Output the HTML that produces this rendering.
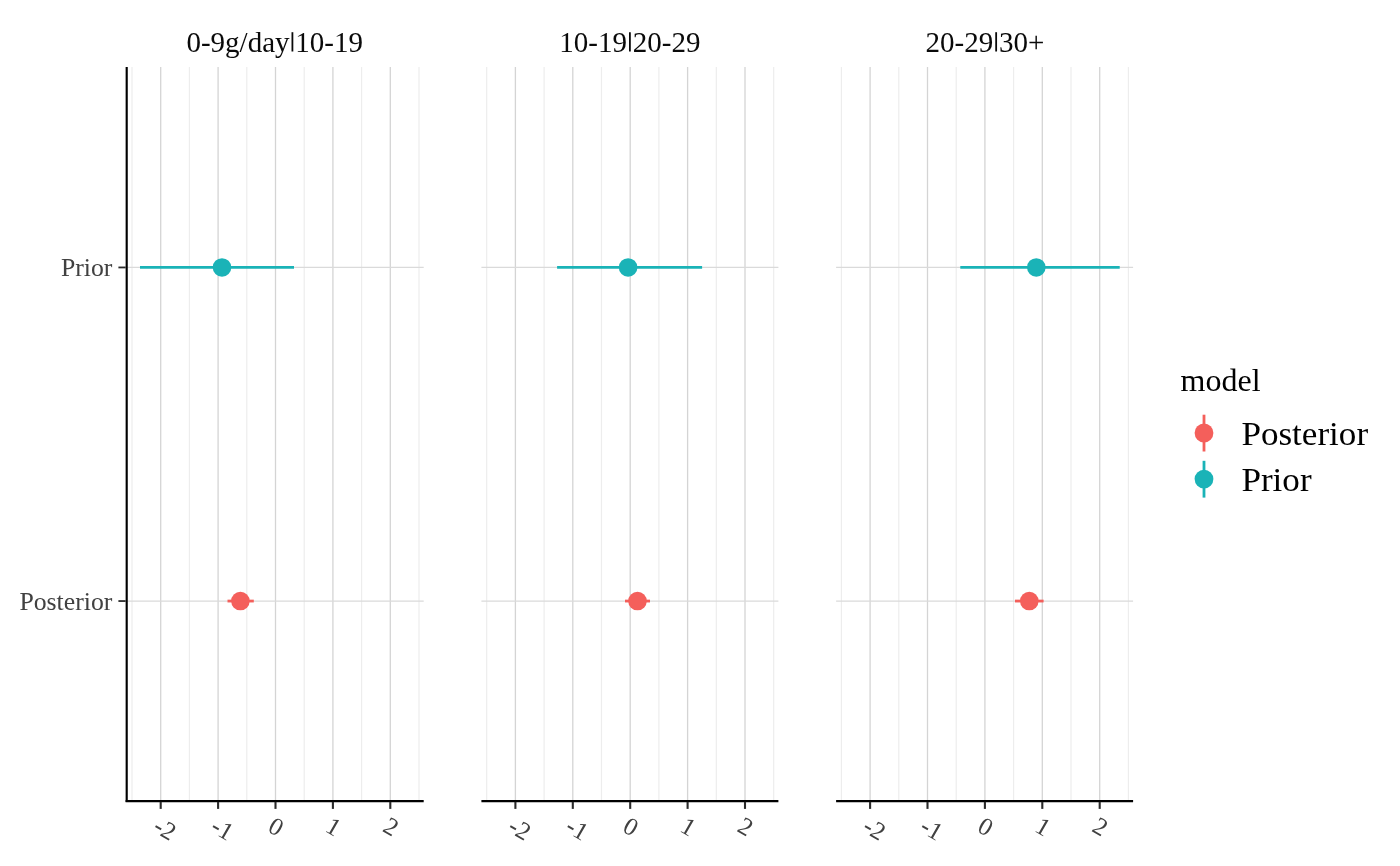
<!DOCTYPE html>
<html><head><meta charset="utf-8"><title>chart</title>
<style>
html,body{margin:0;padding:0;background:#fff;}
body{width:1400px;height:866px;overflow:hidden;font-family:"Liberation Serif",serif;}
svg text{font-family:"Liberation Serif",serif;}
.st{font-size:29px;fill:#0a0a0a;}
.yt{font-size:25.75px;fill:#414141;}
.xt{font-size:25.2px;fill:#414141;}
.lt{font-size:32px;fill:#000;}
.ll{font-size:35.1px;fill:#000;}
</style></head><body>
<svg width="1400" height="866" viewBox="0 0 1400 866" style="display:block;will-change:transform">
<rect width="1400" height="866" fill="#ffffff"/>
<line x1="132.00" x2="132.00" y1="67.0" y2="800.9" stroke="#EDEDED" stroke-width="1.2"/>
<line x1="189.40" x2="189.40" y1="67.0" y2="800.9" stroke="#EDEDED" stroke-width="1.2"/>
<line x1="246.80" x2="246.80" y1="67.0" y2="800.9" stroke="#EDEDED" stroke-width="1.2"/>
<line x1="304.20" x2="304.20" y1="67.0" y2="800.9" stroke="#EDEDED" stroke-width="1.2"/>
<line x1="361.60" x2="361.60" y1="67.0" y2="800.9" stroke="#EDEDED" stroke-width="1.2"/>
<line x1="419.00" x2="419.00" y1="67.0" y2="800.9" stroke="#EDEDED" stroke-width="1.2"/>
<line x1="160.70" x2="160.70" y1="67.0" y2="800.9" stroke="#D4D4D4" stroke-width="1.3"/>
<line x1="218.10" x2="218.10" y1="67.0" y2="800.9" stroke="#D4D4D4" stroke-width="1.3"/>
<line x1="275.50" x2="275.50" y1="67.0" y2="800.9" stroke="#D4D4D4" stroke-width="1.3"/>
<line x1="332.90" x2="332.90" y1="67.0" y2="800.9" stroke="#D4D4D4" stroke-width="1.3"/>
<line x1="390.30" x2="390.30" y1="67.0" y2="800.9" stroke="#D4D4D4" stroke-width="1.3"/>
<line x1="126.70" x2="423.70" y1="267.45" y2="267.45" stroke="#DADADA" stroke-width="1.3"/>
<line x1="126.70" x2="423.70" y1="601.05" y2="601.05" stroke="#DADADA" stroke-width="1.3"/>
<line x1="140" x2="294" y1="267.45" y2="267.45" stroke="#1AB3B7" stroke-width="2.8"/>
<circle cx="222" cy="267.45" r="9.3" fill="#1AB3B7"/>
<line x1="227.5" x2="253.8" y1="601.05" y2="601.05" stroke="#F45F5B" stroke-width="2.8"/>
<circle cx="240.4" cy="601.05" r="9.3" fill="#F45F5B"/>
<line x1="125.60" x2="423.70" y1="801.05" y2="801.05" stroke="#000" stroke-width="2.3"/>
<line x1="160.70" x2="160.70" y1="801.9" y2="808.9" stroke="#2a2a2a" stroke-width="2.1"/>
<text class="xt" transform="translate(151.80,830.8) rotate(30)">-2</text>
<line x1="218.10" x2="218.10" y1="801.9" y2="808.9" stroke="#2a2a2a" stroke-width="2.1"/>
<text class="xt" transform="translate(209.20,830.8) rotate(30)">-1</text>
<line x1="275.50" x2="275.50" y1="801.9" y2="808.9" stroke="#2a2a2a" stroke-width="2.1"/>
<text class="xt" transform="translate(266.60,830.8) rotate(30)">0</text>
<line x1="332.90" x2="332.90" y1="801.9" y2="808.9" stroke="#2a2a2a" stroke-width="2.1"/>
<text class="xt" transform="translate(324.00,830.8) rotate(30)">1</text>
<line x1="390.30" x2="390.30" y1="801.9" y2="808.9" stroke="#2a2a2a" stroke-width="2.1"/>
<text class="xt" transform="translate(381.40,830.8) rotate(30)">2</text>
<text class="st" x="186.43" y="52">0-9g/day<tspan fill="none">&#124;</tspan>10-19</text>
<line x1="292.41" x2="292.41" y1="32.2" y2="51.5" stroke="#0a0a0a" stroke-width="1.8"/>
<line x1="486.70" x2="486.70" y1="67.0" y2="800.9" stroke="#EDEDED" stroke-width="1.2"/>
<line x1="544.10" x2="544.10" y1="67.0" y2="800.9" stroke="#EDEDED" stroke-width="1.2"/>
<line x1="601.50" x2="601.50" y1="67.0" y2="800.9" stroke="#EDEDED" stroke-width="1.2"/>
<line x1="658.90" x2="658.90" y1="67.0" y2="800.9" stroke="#EDEDED" stroke-width="1.2"/>
<line x1="716.30" x2="716.30" y1="67.0" y2="800.9" stroke="#EDEDED" stroke-width="1.2"/>
<line x1="773.70" x2="773.70" y1="67.0" y2="800.9" stroke="#EDEDED" stroke-width="1.2"/>
<line x1="515.40" x2="515.40" y1="67.0" y2="800.9" stroke="#D4D4D4" stroke-width="1.3"/>
<line x1="572.80" x2="572.80" y1="67.0" y2="800.9" stroke="#D4D4D4" stroke-width="1.3"/>
<line x1="630.20" x2="630.20" y1="67.0" y2="800.9" stroke="#D4D4D4" stroke-width="1.3"/>
<line x1="687.60" x2="687.60" y1="67.0" y2="800.9" stroke="#D4D4D4" stroke-width="1.3"/>
<line x1="745.00" x2="745.00" y1="67.0" y2="800.9" stroke="#D4D4D4" stroke-width="1.3"/>
<line x1="481.40" x2="778.40" y1="267.45" y2="267.45" stroke="#DADADA" stroke-width="1.3"/>
<line x1="481.40" x2="778.40" y1="601.05" y2="601.05" stroke="#DADADA" stroke-width="1.3"/>
<line x1="557.1" x2="702.1" y1="267.45" y2="267.45" stroke="#1AB3B7" stroke-width="2.8"/>
<circle cx="628.1" cy="267.45" r="9.3" fill="#1AB3B7"/>
<line x1="625" x2="650" y1="601.05" y2="601.05" stroke="#F45F5B" stroke-width="2.8"/>
<circle cx="637.5" cy="601.05" r="9.3" fill="#F45F5B"/>
<line x1="481.40" x2="778.40" y1="801.05" y2="801.05" stroke="#000" stroke-width="2.3"/>
<line x1="515.40" x2="515.40" y1="801.9" y2="808.9" stroke="#2a2a2a" stroke-width="2.1"/>
<text class="xt" transform="translate(506.50,830.8) rotate(30)">-2</text>
<line x1="572.80" x2="572.80" y1="801.9" y2="808.9" stroke="#2a2a2a" stroke-width="2.1"/>
<text class="xt" transform="translate(563.90,830.8) rotate(30)">-1</text>
<line x1="630.20" x2="630.20" y1="801.9" y2="808.9" stroke="#2a2a2a" stroke-width="2.1"/>
<text class="xt" transform="translate(621.30,830.8) rotate(30)">0</text>
<line x1="687.60" x2="687.60" y1="801.9" y2="808.9" stroke="#2a2a2a" stroke-width="2.1"/>
<text class="xt" transform="translate(678.70,830.8) rotate(30)">1</text>
<line x1="745.00" x2="745.00" y1="801.9" y2="808.9" stroke="#2a2a2a" stroke-width="2.1"/>
<text class="xt" transform="translate(736.10,830.8) rotate(30)">2</text>
<text class="st" x="559.34" y="52">10-19<tspan fill="none">&#124;</tspan>20-29</text>
<line x1="629.90" x2="629.90" y1="32.2" y2="51.5" stroke="#0a0a0a" stroke-width="1.8"/>
<line x1="841.40" x2="841.40" y1="67.0" y2="800.9" stroke="#EDEDED" stroke-width="1.2"/>
<line x1="898.80" x2="898.80" y1="67.0" y2="800.9" stroke="#EDEDED" stroke-width="1.2"/>
<line x1="956.20" x2="956.20" y1="67.0" y2="800.9" stroke="#EDEDED" stroke-width="1.2"/>
<line x1="1013.60" x2="1013.60" y1="67.0" y2="800.9" stroke="#EDEDED" stroke-width="1.2"/>
<line x1="1071.00" x2="1071.00" y1="67.0" y2="800.9" stroke="#EDEDED" stroke-width="1.2"/>
<line x1="1128.40" x2="1128.40" y1="67.0" y2="800.9" stroke="#EDEDED" stroke-width="1.2"/>
<line x1="870.10" x2="870.10" y1="67.0" y2="800.9" stroke="#D4D4D4" stroke-width="1.3"/>
<line x1="927.50" x2="927.50" y1="67.0" y2="800.9" stroke="#D4D4D4" stroke-width="1.3"/>
<line x1="984.90" x2="984.90" y1="67.0" y2="800.9" stroke="#D4D4D4" stroke-width="1.3"/>
<line x1="1042.30" x2="1042.30" y1="67.0" y2="800.9" stroke="#D4D4D4" stroke-width="1.3"/>
<line x1="1099.70" x2="1099.70" y1="67.0" y2="800.9" stroke="#D4D4D4" stroke-width="1.3"/>
<line x1="836.10" x2="1133.10" y1="267.45" y2="267.45" stroke="#DADADA" stroke-width="1.3"/>
<line x1="836.10" x2="1133.10" y1="601.05" y2="601.05" stroke="#DADADA" stroke-width="1.3"/>
<line x1="960.3" x2="1119.7" y1="267.45" y2="267.45" stroke="#1AB3B7" stroke-width="2.8"/>
<circle cx="1036.3" cy="267.45" r="9.3" fill="#1AB3B7"/>
<line x1="1015" x2="1043.6" y1="601.05" y2="601.05" stroke="#F45F5B" stroke-width="2.8"/>
<circle cx="1029.3" cy="601.05" r="9.3" fill="#F45F5B"/>
<line x1="836.10" x2="1133.10" y1="801.05" y2="801.05" stroke="#000" stroke-width="2.3"/>
<line x1="870.10" x2="870.10" y1="801.9" y2="808.9" stroke="#2a2a2a" stroke-width="2.1"/>
<text class="xt" transform="translate(861.20,830.8) rotate(30)">-2</text>
<line x1="927.50" x2="927.50" y1="801.9" y2="808.9" stroke="#2a2a2a" stroke-width="2.1"/>
<text class="xt" transform="translate(918.60,830.8) rotate(30)">-1</text>
<line x1="984.90" x2="984.90" y1="801.9" y2="808.9" stroke="#2a2a2a" stroke-width="2.1"/>
<text class="xt" transform="translate(976.00,830.8) rotate(30)">0</text>
<line x1="1042.30" x2="1042.30" y1="801.9" y2="808.9" stroke="#2a2a2a" stroke-width="2.1"/>
<text class="xt" transform="translate(1033.40,830.8) rotate(30)">1</text>
<line x1="1099.70" x2="1099.70" y1="801.9" y2="808.9" stroke="#2a2a2a" stroke-width="2.1"/>
<text class="xt" transform="translate(1090.80,830.8) rotate(30)">2</text>
<text class="st" x="925.59" y="52">20-29<tspan fill="none">&#124;</tspan>30+</text>
<line x1="996.15" x2="996.15" y1="32.2" y2="51.5" stroke="#0a0a0a" stroke-width="1.8"/>
<line x1="126.7" x2="126.7" y1="67.0" y2="802.0" stroke="#000" stroke-width="2.15"/>
<line x1="118.4" x2="125.7" y1="267.45" y2="267.45" stroke="#2a2a2a" stroke-width="1.8"/>
<text class="yt" x="112.4" y="276.34999999999997" text-anchor="end">Prior</text>
<line x1="118.4" x2="125.7" y1="601.05" y2="601.05" stroke="#2a2a2a" stroke-width="1.8"/>
<text class="yt" x="112.4" y="609.9499999999999" text-anchor="end">Posterior</text>
<text class="lt" transform="translate(1180.6,390.7) scale(1,0.96)">model</text>
<line x1="1204" x2="1204" y1="414.7" y2="451.5" stroke="#F45F5B" stroke-width="2.8"/>
<circle cx="1204" cy="433" r="9.4" fill="#F45F5B"/>
<text class="ll" transform="translate(1241.4,444.8) scale(1,0.96)">Posterior</text>
<line x1="1204" x2="1204" y1="460.8" y2="497.6" stroke="#1AB3B7" stroke-width="2.8"/>
<circle cx="1204" cy="479.1" r="9.4" fill="#1AB3B7"/>
<text class="ll" transform="translate(1241.4,490.90000000000003) scale(1,0.96)">Prior</text>
</svg>
</body></html>
